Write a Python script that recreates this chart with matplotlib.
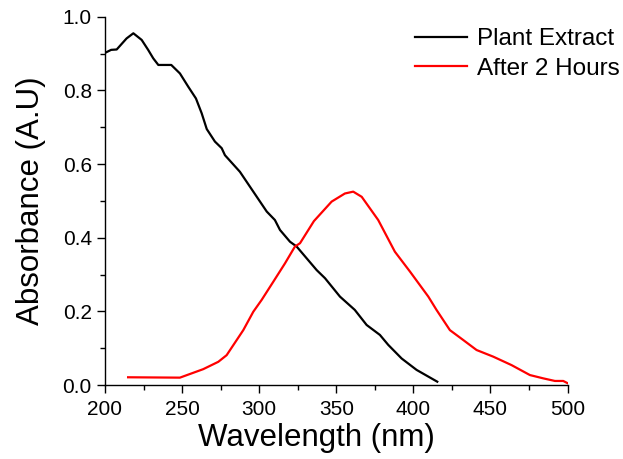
import matplotlib
matplotlib.use('Agg')
import matplotlib.pyplot as plt
from matplotlib.ticker import MultipleLocator

plt.rcParams['font.family'] = ['Liberation Sans', 'DejaVu Sans']

# Plant extract spectrum
extract_nm = [200.6, 204, 207.6, 214, 218.4, 223.8, 228, 231.3, 234.6, 243, 248.6,
              254, 259, 262.7, 266, 271.3, 275.7, 277.8, 287.5, 296.2, 304.9,
              310.2, 313.5, 320, 324.3, 330.8, 337.3, 342.7, 352.4, 362, 369.7, 378.3,
              383.7, 392.4, 402.1, 415.5]
extract_abs = [0.903, 0.91, 0.911, 0.941, 0.955, 0.937, 0.91, 0.887, 0.869, 0.869, 0.846,
               0.81, 0.778, 0.738, 0.695, 0.661, 0.643, 0.624, 0.579, 0.525, 0.471,
               0.448, 0.421, 0.389, 0.376, 0.344, 0.312, 0.29, 0.24, 0.204, 0.163, 0.136,
               0.109, 0.072, 0.041, 0.009]

# After 2 hours spectrum
after_nm = [215, 248.6, 263.7, 273.5, 278.9, 289.7, 296.2, 301.6, 309.1, 316.7, 323.2,
            326.5, 335.5, 347, 355.6, 361, 366.5, 377.2, 388, 397.8, 409.7, 415, 423.7,
            432.4, 441, 451.8, 463.7, 475.6, 484.3, 491.8, 497.2, 500]
after_abs = [0.021, 0.020, 0.043, 0.063, 0.081, 0.149, 0.199, 0.231, 0.28, 0.33, 0.376,
             0.385, 0.445, 0.498, 0.52, 0.525, 0.511, 0.448, 0.362, 0.308, 0.24, 0.204, 0.149,
             0.122, 0.095, 0.077, 0.054, 0.027, 0.018, 0.011, 0.011, 0.005]

fig = plt.figure(figsize=(6.23, 4.59), dpi=100)
ax = fig.add_axes([0.1685, 0.1612, 0.7425, 0.8024])

ax.plot(extract_nm, extract_abs, color='black', lw=1.6, label='Plant Extract')
ax.plot(after_nm, after_abs, color='#ff0000', lw=1.6, label='After 2 Hours')

ax.set_xlim(200, 500)
ax.set_ylim(0, 1.0)
ax.xaxis.set_major_locator(MultipleLocator(50))
ax.xaxis.set_minor_locator(MultipleLocator(25))
ax.yaxis.set_major_locator(MultipleLocator(0.2))
ax.yaxis.set_minor_locator(MultipleLocator(0.1))
ax.yaxis.set_major_formatter(matplotlib.ticker.FormatStrFormatter('%.1f'))

for s in ['top', 'right']:
    ax.spines[s].set_visible(False)
for s in ['left', 'bottom']:
    ax.spines[s].set_linewidth(1.0)
ax.tick_params(which='major', direction='out', length=6, width=1, labelsize=15)
ax.tick_params(axis='x', which='major', pad=4.5)
ax.tick_params(axis='y', which='major', pad=3.5)
ax.tick_params(which='minor', direction='out', length=3.5, width=1)

ax.set_xlabel('Wavelength (nm)', fontsize=22.5)
ax.set_ylabel('Absorbance (A.U)', fontsize=22.5)
ax.xaxis.set_label_coords(0.458, -0.103)
ax.yaxis.set_label_coords(-0.1275, 0.5)

ax.legend(loc='upper left', bbox_to_anchor=(415 / 623, 1 - 28 / 459),
          bbox_transform=fig.transFigure, frameon=False, fontsize=17.5,
          handlelength=2.15, handletextpad=0.4, labelspacing=0.32,
          borderpad=0, borderaxespad=0)

fig.savefig('out.png', dpi=100)
